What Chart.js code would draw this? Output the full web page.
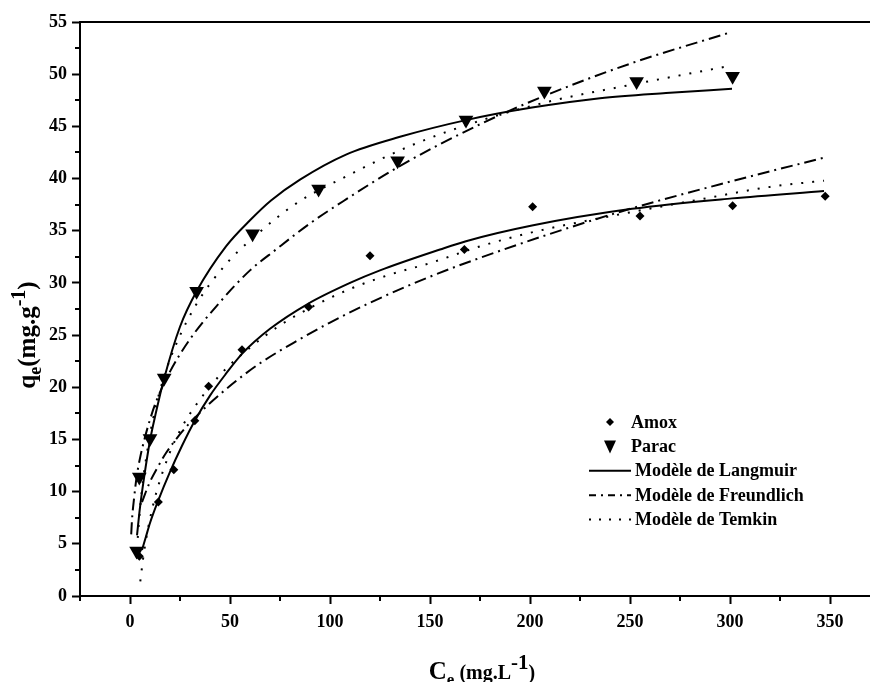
<!DOCTYPE html>
<html><head><meta charset="utf-8">
<script src="https://cdn.jsdelivr.net/npm/chart.js@4.4.0/dist/chart.umd.min.js"></script>
<style>html,body{margin:0;padding:0;background:#fff}#wrap{width:870px;height:682px;position:relative}</style>
</head><body><div id="wrap"><canvas id="c" width="870" height="682"></canvas></div>
<script>
const FONT = '"Liberation Serif","Times New Roman",serif';

// ---- tick labels ----
const xTickValues = [0, 50, 100, 150, 200, 250, 300, 350];
const xMinorTicks = [25, 75, 125, 175, 225, 275, 325];
const yTickValues = [0, 5, 10, 15, 20, 25, 30, 35, 40, 45, 50, 55];
const yMinorTicks = [2.5, 7.5, 12.5, 17.5, 22.5, 27.5, 32.5, 37.5, 42.5, 47.5, 52.5];

// ---- experimental points ----
const amoxCe = [4.65, 14.2, 21.9, 32.4, 39.3, 56, 89.3, 120, 167.2, 201.3, 255, 301.3, 347.6];
const amoxQe = [3.8, 9.0, 12.1, 16.8, 20.1, 23.6, 27.7, 32.6, 33.2, 37.3, 36.4, 37.4, 38.3];
const paracCe = [3.3, 4.65, 10, 17.1, 33.3, 61.3, 94.3, 133.8, 168, 207.2, 253.3, 301.3];
const paracQe = [4.3, 11.4, 15.1, 20.9, 29.2, 34.7, 39.0, 41.7, 45.6, 48.4, 49.3, 49.8];

// ---- model curves ----
const langParacCe = [3.5, 5, 7, 10, 13, 17, 25, 33.3, 48, 60, 70.5, 85, 108, 135, 168, 201, 235, 268, 301];
const langParacQe = [5.8, 8.5, 11.3, 14.9, 17.6, 20.8, 25.8, 29.2, 33.5, 36.0, 37.9, 39.9, 42.3, 44.0, 45.6, 46.8, 47.7, 48.2, 48.6];
const freuParacCe = [0.6, 1, 2, 3.3, 5, 7.2, 10, 13, 20, 29.6, 44.7, 60, 73, 90, 108, 134, 175, 207, 250, 300];
const freuParacQe = [5.9, 7.3, 9.3, 11.4, 13.2, 15.0, 16.9, 18.6, 21.5, 24.5, 28.1, 31.2, 33.2, 35.7, 38.0, 41.1, 45.2, 47.9, 51.0, 54.0];
const temkParacCe = [3.5, 4, 5, 6, 7, 8.8, 10, 13, 17, 23, 33, 48, 62, 83, 108, 141, 176, 210, 251, 300];
const temkParacQe = [4.5, 5.9, 8.3, 10.2, 11.8, 14.1, 15.5, 18.2, 21.0, 24.1, 27.9, 31.8, 34.4, 37.6, 40.2, 43.2, 45.6, 47.4, 49.0, 50.8];

const langAmoxCe = [6, 8, 10, 14, 20, 26, 32.4, 40, 48, 56, 70, 89, 110, 125, 155, 168, 201, 251, 301, 347];
const langAmoxQe = [4.4, 5.7, 7.0, 9.1, 11.9, 14.4, 16.8, 19.2, 21.3, 23.2, 25.6, 28.0, 30.0, 31.2, 33.2, 34.0, 35.5, 37.1, 38.1, 38.8];
const freuAmoxCe = [6, 9.65, 14, 18, 25, 30, 41.3, 53, 65, 83, 100, 120, 150, 175, 210, 251, 300, 347];
const freuAmoxQe = [9.0, 10.8, 12.4, 13.7, 15.5, 16.6, 18.7, 20.6, 22.3, 24.4, 26.2, 28.1, 30.6, 32.4, 34.7, 37.15, 39.7, 42.0];
const temkAmoxCe = [5.15, 6.5, 8, 10, 13, 19.6, 26, 33, 41, 49.7, 60, 74.7, 90, 111, 130, 150, 175, 200, 243, 285, 320, 347];
const temkAmoxQe = [1.4, 3.5, 5.4, 7.4, 9.8, 13.6, 16.2, 18.3, 20.3, 22.1, 23.8, 25.9, 27.6, 29.5, 30.8, 31.9, 33.5, 34.8, 36.5, 38.0, 39.2, 39.8];

const legendLabels = ['Amox', 'Parac', 'Modèle de Langmuir', 'Modèle de Freundlich', 'Modèle de Temkin'];

const zip = (xs, ys) => xs.map((v, i) => ({x: v, y: ys[i]}));
const DASHDOT = [12, 5, 2, 5];
const DOT = [2, 9];

function lineDs(label, xs, ys, dash) {
  return {label, data: zip(xs, ys), showLine: true, pointRadius: 0, pointHoverRadius: 0,
    borderColor: '#000', borderWidth: 2, borderDash: dash, cubicInterpolationMode: 'monotone', fill: false};
}

const datasets = [
  {label: 'Amox', data: zip(amoxCe, amoxQe), pointStyle: 'rectRot', pointRadius: 4.5, backgroundColor: '#000', borderColor: '#000', borderWidth: 0, showLine: false},
  {label: 'Parac', data: zip(paracCe, paracQe), pointStyle: 'triangle', rotation: 180, pointRadius: 8.5, backgroundColor: '#000', borderColor: '#000', borderWidth: 0, showLine: false},
  lineDs('Modèle de Langmuir', langParacCe, langParacQe, []),
  lineDs('Modèle de Langmuir', langAmoxCe, langAmoxQe, []),
  lineDs('Modèle de Freundlich', freuParacCe, freuParacQe, DASHDOT),
  lineDs('Modèle de Freundlich', freuAmoxCe, freuAmoxQe, DASHDOT),
  lineDs('Modèle de Temkin', temkParacCe, temkParacQe, DOT),
  lineDs('Modèle de Temkin', temkAmoxCe, temkAmoxQe, DOT)
];

function drawRich(ctx, parts, cx, cy, rot) {
  ctx.save();
  ctx.translate(cx, cy);
  if (rot) ctx.rotate(rot);
  let total = 0;
  parts.forEach(p => { ctx.font = 'bold ' + p.size + 'px ' + FONT; p.w = ctx.measureText(p.t).width; total += p.w; });
  let x = -total / 2;
  ctx.textBaseline = 'alphabetic';
  ctx.textAlign = 'left';
  ctx.fillStyle = '#000';
  parts.forEach(p => { ctx.font = 'bold ' + p.size + 'px ' + FONT; ctx.fillText(p.t, x, p.dy || 0); x += p.w; });
  ctx.restore();
}

const decor = {
  id: 'decor',
  afterDraw(chart) {
    const {ctx, chartArea: a, scales: {x, y}} = chart;
    ctx.save();
    ctx.strokeStyle = '#000';
    ctx.lineWidth = 2;
    ctx.setLineDash([]);
    ctx.beginPath();
    ctx.moveTo(a.left - 1, a.top); ctx.lineTo(a.right, a.top);
    ctx.moveTo(a.left, a.bottom); ctx.lineTo(a.left, a.bottom + 5);
    xMinorTicks.forEach(v => { const px = Math.round(x.getPixelForValue(v)); ctx.moveTo(px, a.bottom); ctx.lineTo(px, a.bottom + 5); });
    yMinorTicks.forEach(v => { const py = Math.round(y.getPixelForValue(v)); ctx.moveTo(a.left, py); ctx.lineTo(a.left - 5, py); });
    ctx.stroke();

    // legend
    const lx = 610, ly0 = 422, dy = 24.4;
    ctx.fillStyle = '#000';
    ctx.font = 'bold 18px ' + FONT;
    ctx.textBaseline = 'middle';
    legendLabels.forEach((lab, i) => {
      const yy = ly0 + i * dy;
      if (i === 0) {
        ctx.beginPath(); ctx.moveTo(lx, yy - 4); ctx.lineTo(lx + 4, yy); ctx.lineTo(lx, yy + 4); ctx.lineTo(lx - 4, yy); ctx.closePath(); ctx.fill();
        ctx.fillText(lab, 631, yy + 1);
      } else if (i === 1) {
        ctx.beginPath(); ctx.moveTo(lx - 6, yy - 6); ctx.lineTo(lx + 6, yy - 6); ctx.lineTo(lx, yy + 7); ctx.closePath(); ctx.fill();
        ctx.fillText(lab, 631, yy + 1);
      } else {
        const dash = i === 2 ? [] : (i === 3 ? [7, 5, 2, 5] : [2, 8]);
        ctx.setLineDash(dash);
        ctx.beginPath(); ctx.moveTo(589, yy); ctx.lineTo(631, yy); ctx.stroke();
        ctx.setLineDash([]);
        ctx.fillText(lab, 635, yy + 1);
      }
    });

    // axis titles
    drawRich(ctx, [
      {t: 'q', size: 25}, {t: 'e', size: 18, dy: 6}, {t: '(mg.g', size: 25},
      {t: '-1', size: 20, dy: -10}, {t: ')', size: 25}
    ], 35, 335, -Math.PI / 2);
    drawRich(ctx, [
      {t: 'C', size: 25}, {t: 'e', size: 17, dy: 6}, {t: ' (mg.L', size: 20},
      {t: '-1', size: 21, dy: -10}, {t: ')', size: 20}
    ], 482, 679, 0);
    ctx.restore();
  }
};

const tickFont = {family: FONT, size: 18, weight: 'bold'};

new Chart(document.getElementById('c'), {
  type: 'scatter',
  data: {datasets},
  options: {
    responsive: false,
    animation: false,
    events: [],
    layout: {autoPadding: false, padding: {left: 0, top: 22, right: 0, bottom: 0}},
    plugins: {legend: {display: false}, tooltip: {enabled: false}, title: {display: false}},
    scales: {
      x: {
        type: 'linear', position: 'bottom', min: -25, max: 370,
        afterBuildTicks: s => { s.ticks = xTickValues.map(v => ({value: v})); },
        afterFit: s => { s.height = 86; s.paddingLeft = 0; s.paddingRight = 0; },
        ticks: {font: tickFont, color: '#000', padding: 8, maxRotation: 0, autoSkip: false},
        grid: {display: true, drawOnChartArea: false, drawTicks: true, tickLength: 8, tickWidth: 2, tickColor: '#000'},
        border: {display: true, color: '#000', width: 2}
      },
      y: {
        type: 'linear', position: 'left', min: 0, max: 55,
        afterBuildTicks: s => { s.ticks = yTickValues.map(v => ({value: v})); },
        afterFit: s => { s.width = 80; s.paddingTop = 0; s.paddingBottom = 0; },
        ticks: {font: tickFont, color: '#000', padding: 5, autoSkip: false},
        grid: {display: true, drawOnChartArea: false, drawTicks: true, tickLength: 8, tickWidth: 2, tickColor: '#000'},
        border: {display: true, color: '#000', width: 2}
      }
    }
  },
  plugins: [decor]
});
</script>
</body></html>
